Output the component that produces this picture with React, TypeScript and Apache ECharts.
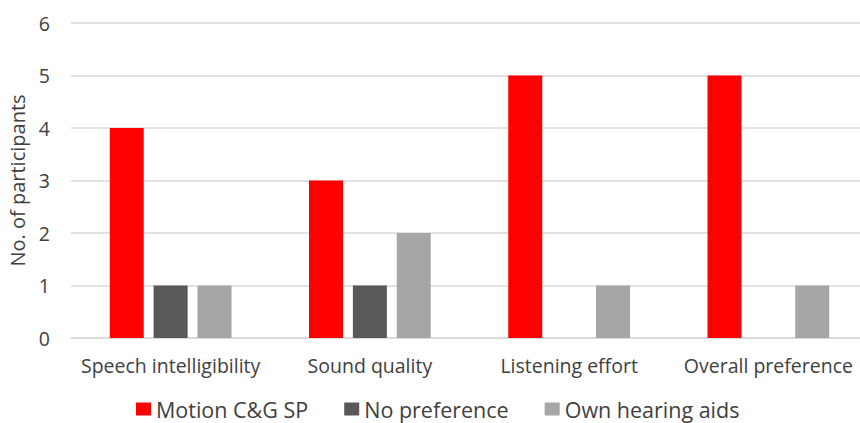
import React, { useEffect, useRef } from "react";
import * as echarts from "echarts";

const categories = ["Speech intelligibility", "Sound quality", "Listening effort", "Overall preference"];
const motionValues = [4, 3, 5, 5];
const noPrefValues: (number | null)[] = [1, 1, null, null];
const ownValues = [1, 2, 1, 1];
const yTicks = [0, 1, 2, 3, 4, 5, 6];

export default function App() {
  const ref = useRef<HTMLDivElement>(null);
  useEffect(() => {
    if (!ref.current) return;
    const chart = echarts.init(ref.current, null, { renderer: "svg" });
    const font = "'Open Sans', 'Noto Sans', sans-serif";
    chart.setOption({
      animation: false,
      textStyle: { fontFamily: font },
      grid: { left: 71, width: 797, top: 23, height: 315, containLabel: false, outerBoundsMode: "none" },
      legend: {
        top: 398,
        left: 136,
        padding: 0,
        itemWidth: 15,
        itemHeight: 13,
        itemGap: 36,
        icon: "rect",
        textStyle: { fontFamily: font, fontSize: 21.5, color: "#404040" },
        data: ["Motion C&G SP", "No preference", "Own hearing aids"],
      },
      xAxis: {
        type: "category",
        data: categories,
        axisTick: { show: false },
        axisLine: { lineStyle: { color: "#D9D9D9", width: 1.5 } },
        axisLabel: { fontFamily: font, fontSize: 19.5, color: "#404040", margin: 17, interval: 0 },
      },
      yAxis: {
        type: "value",
        min: yTicks[0],
        max: yTicks[yTicks.length - 1],
        interval: 1,
        name: "No. of participants",
        nameLocation: "middle",
        nameGap: 43,
        nameTextStyle: { fontFamily: font, fontSize: 20, color: "#404040" },
        axisLabel: { fontFamily: font, fontSize: 19.5, color: "#404040", margin: 21 },
        splitLine: { lineStyle: { color: "#D9D9D9", width: 1.5 } },
      },
      series: [
        { name: "Motion C&G SP", type: "bar", data: motionValues, barWidth: 34, barGap: "29%", itemStyle: { color: "#FF0000" } },
        { name: "No preference", type: "bar", data: noPrefValues, barWidth: 34, barGap: "29%", itemStyle: { color: "#595959" } },
        { name: "Own hearing aids", type: "bar", data: ownValues, barWidth: 34, barGap: "29%", itemStyle: { color: "#A6A6A6" } },
      ],
    });
    return () => chart.dispose();
  }, []);
  return <div ref={ref} style={{ width: 860, height: 423, position: "absolute", left: 0, top: 0 }} />;
}
